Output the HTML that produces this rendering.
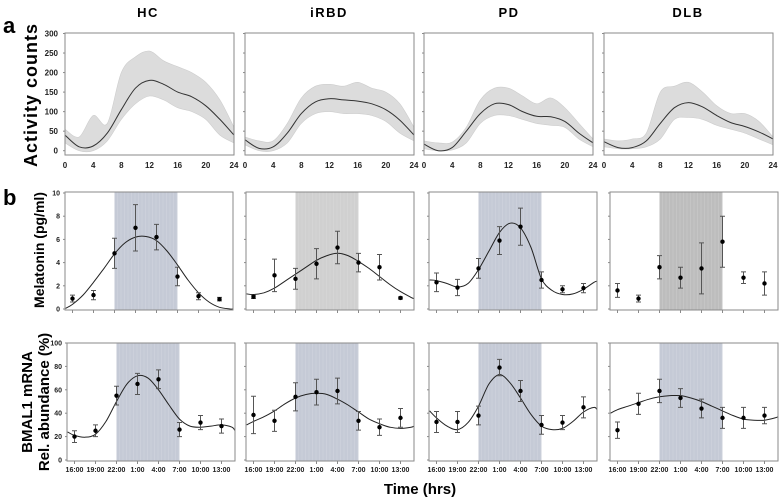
<!DOCTYPE html>
<html><head><meta charset="utf-8">
<style>
body{margin:0;background:#fff;}
svg{display:block;font-family:"Liberation Sans",Arial,sans-serif;}
</style></head>
<body>
<svg id="fig" width="779" height="497" viewBox="0 0 779 497" xmlns="http://www.w3.org/2000/svg">
<text x="3" y="33" font-size="22" font-weight="bold">a</text>
<text x="3" y="205" font-size="22" font-weight="bold">b</text>
<text x="148" y="17" font-size="13" font-weight="bold" letter-spacing="1.5" text-anchor="middle">HC</text>
<text x="329" y="17" font-size="13" font-weight="bold" letter-spacing="1.5" text-anchor="middle">iRBD</text>
<text x="509" y="17" font-size="13" font-weight="bold" letter-spacing="1.5" text-anchor="middle">PD</text>
<text x="688" y="17" font-size="13" font-weight="bold" letter-spacing="1.5" text-anchor="middle">DLB</text>
<text transform="translate(37,95) rotate(-90)" font-size="18" font-weight="bold" text-anchor="middle" letter-spacing="1">Activity counts</text>
<text transform="translate(44,250) rotate(-90)" font-size="14" font-weight="bold" text-anchor="middle">Melatonin (pg/ml)</text>
<text transform="translate(32,402) rotate(-90)" font-size="15" font-weight="bold" text-anchor="middle">BMAL1 mRNA</text>
<text transform="translate(49,402) rotate(-90)" font-size="15" font-weight="bold" text-anchor="middle">Rel. abundance (%)</text>
<text x="420" y="494" font-size="15" font-weight="bold" text-anchor="middle">Time (hrs)</text>
</svg>
<script>
// ===== Activity data (hours 0..24 step 2) =====
const actHours = [0,2,4,6,8,10,12,14,16,18,20,22,24];
const actCurveHC   = [40,10,12,45,105,160,180,170,150,138,115,80,40];
const actUpperHC   = [55,35,90,70,200,240,255,230,215,200,175,130,60];
const actLowerHC   = [20,0,0,25,80,120,140,130,110,100,80,40,20];
const actCurveIRBD = [28,6,10,45,95,125,133,130,127,120,105,78,40];
const actUpperIRBD = [35,25,25,70,135,165,170,165,175,160,150,120,60];
const actLowerIRBD = [15,0,0,20,70,95,100,95,95,90,75,45,25];
const actCurvePD   = [17,0,8,50,95,120,118,100,88,87,75,45,20];
const actUpperPD   = [25,20,22,60,130,160,160,140,120,135,110,70,30];
const actLowerPD   = [5,0,2,20,70,90,90,80,70,65,60,30,10];
const actCurveDLB  = [23,8,8,25,70,110,123,112,90,72,62,48,30];
const actUpperDLB  = [30,25,30,45,150,165,175,150,115,95,95,75,35];
const actLowerDLB  = [10,5,5,10,30,80,85,80,65,55,45,30,15];
const actTicks = [0,4,8,12,16,20,24];
const actYTicks = [0,50,100,150,200,250,300];

// ===== Sampling times =====
const timeLabels = ["16:00","19:00","22:00","1:00","4:00","7:00","10:00","13:00"];

// ===== Melatonin =====
const melHC    = [0.9,1.2,4.8,7.0,6.2,2.8,1.1,0.85];
const melErrHC = [0.3,0.4,1.3,2.0,1.1,0.8,0.3,0.15];
const melIRBD    = [1.05,2.9,2.6,3.9,5.3,4.0,3.6,0.95];
const melErrIRBD = [0.15,1.4,0.9,1.3,1.4,0.8,1.1,0.1];
const melPD    = [2.3,1.85,3.5,5.9,7.1,2.5,1.7,1.8];
const melErrPD = [0.8,0.7,0.85,1.2,1.6,0.7,0.3,0.4];
const melDLB    = [1.6,0.9,3.6,2.7,3.5,5.8,2.7,2.2];
const melErrDLB = [0.6,0.3,1.0,0.9,2.2,2.2,0.5,1.0];
const fitIdx = [-0.33,0,0.5,1,1.5,2,2.5,3,3.5,4,4.5,5,5.5,6,6.5,7,7.5,7.7];
const melFitHC   = [0.05,0.4,1.2,2.3,3.5,4.75,5.7,6.2,6.25,5.9,5.0,3.8,2.5,1.4,0.6,0.15,0,0];
const melFitIRBD = [1.3,1.25,1.4,1.8,2.4,3.0,3.6,4.2,4.6,4.8,4.6,4.1,3.5,2.8,2.1,1.5,1.0,0.9];
const melFitPD   = [2.5,2.45,2.2,1.9,2.2,3.4,5.0,6.6,7.4,7.0,5.3,2.6,1.6,1.25,1.3,1.7,2.3,2.4];
const melYTicks = [0,2,4,6,8,10];

// ===== BMAL1 =====
const bmHC    = [20,25,55,65,69,26,32,29];
const bmErrHC = [5,5,8,9,8,6,6,6];
const bmIRBD    = [38.5,33.5,54,58,59,33.5,28,36];
const bmErrIRBD = [16,9,12,11,11,8,7,8];
const bmPD    = [32.5,32.5,38,79,59,30,32,45];
const bmErrPD = [9,9,8,7,9,8,6,9];
const bmDLB    = [25.5,48,59,53,44,36,36,38];
const bmErrDLB = [7,9,10,8,8,9,9,7];
const bmFitHC   = [24,21,19.5,22,33,50,65,72,70,60,47,35,29,28,29,30,28,25];
const bmFitIRBD = [30,33,37,42,48,53,56,57,56,52,47,41,35,31,28,27,28,29];
const bmFitPD   = [42,36,29,26,32,46,65,73,66,53,39,29,26,27,33,41,45,43];
const bmFitDLB  = [40,43,46,49,52,54,55,55,53,50,46,42,38,35,34,34,36,37];
const bmYTicks = [0,20,40,60,80,100];

const NS = "http://www.w3.org/2000/svg";
const svg = document.getElementById('fig');
function mk(tag, attrs, parent){
  const e = document.createElementNS(NS, tag);
  for (const k in attrs) e.setAttribute(k, attrs[k]);
  (parent||svg).appendChild(e);
  return e;
}
function smooth(pts){
  let d = "M"+pts[0][0].toFixed(1)+","+pts[0][1].toFixed(1);
  for (let i=0;i<pts.length-1;i++){
    const p0=pts[Math.max(i-1,0)], p1=pts[i], p2=pts[i+1], p3=pts[Math.min(i+2,pts.length-1)];
    const c1=[p1[0]+(p2[0]-p0[0])/6, p1[1]+(p2[1]-p0[1])/6];
    const c2=[p2[0]-(p3[0]-p1[0])/6, p2[1]-(p3[1]-p1[1])/6];
    d += " C"+c1[0].toFixed(1)+","+c1[1].toFixed(1)+" "+c2[0].toFixed(1)+","+c2[1].toFixed(1)+" "+p2[0].toFixed(1)+","+p2[1].toFixed(1);
  }
  return d;
}

// ---- Activity panels ----
const actPanels = [
  {name:"hc", left:65, c:actCurveHC, u:actUpperHC, l:actLowerHC},
  {name:"irbd", left:245, c:actCurveIRBD, u:actUpperIRBD, l:actLowerIRBD},
  {name:"pd", left:424, c:actCurvePD, u:actUpperPD, l:actLowerPD},
  {name:"dlb", left:604, c:actCurveDLB, u:actUpperDLB, l:actLowerDLB}
];
actPanels.forEach((p, pi) => {
  const W = 169, top = 33, bot = 155;
  const xS = h => p.left + h/24*W;
  const yS = v => 150.7 - v*(117.2/300);
  const g = mk('g', {});
  
  
  const up = actHours.map((h,i)=>[xS(h), yS(p.u[i])]);
  const lo = actHours.map((h,i)=>[xS(h), yS(p.l[i])]).reverse();
  const band = mk('path', {d: smooth(up) + " L" + smooth(lo).slice(1) + " Z", fill:"#dcdcdc", stroke:"#cdcdcd", "stroke-width":"0.6"}, g);
  
  
  const cur = mk('path', {d: smooth(actHours.map((h,i)=>[xS(h), yS(p.c[i])])), fill:"none", stroke:"#333", "stroke-width":"1"}, g);
  
  
  const fr = mk('rect', {x:p.left, y:top, width:W, height:bot-top, fill:"none", stroke:"#8a8a8a", "stroke-width":"1"}, g);
  
  
  actYTicks.forEach(t=>{
    mk('line', {x1:p.left-2, x2:p.left, y1:yS(t), y2:yS(t), stroke:"#8a8a8a"}, g);
    if (pi===0){
      const tx = mk('text', {x:p.left-7, y:yS(t)+3, "font-size":"8", "font-weight":"bold", "text-anchor":"end", fill:"#222"}, g);
      tx.textContent = t;
      
      
    }
  });
  actTicks.forEach(t=>{
    const tx = mk('text', {x:xS(t), y:168, "font-size":"8", "font-weight":"bold", "text-anchor":"middle", fill:"#222"}, g);
    tx.textContent = t;
    
    
  });
});

// ---- Point panels ----
function pointPanel(cfg){
  const W = 168;
  const xS = i => cfg.left + 7.5 + 21*i;
  const yS = v => cfg.y0 - v*(cfg.y0-cfg.yMaxPx)/cfg.vmax;
  const g = mk('g', {});
  
  
  const sh = mk('rect', {x:xS(2), y:cfg.top, width:xS(5)-xS(2), height:cfg.bot-cfg.top, fill:cfg.shade}, g);
  
  
  for (let x = xS(2)+3; x < xS(5); x += 3.5){
    mk('line', {x1:x, x2:x, y1:cfg.top, y2:cfg.bot, stroke:"#fff", "stroke-opacity":"0.12", "stroke-width":"1"}, g);
  }
  if (cfg.fit){
    const cp = mk('path', {d: smooth(fitIdx.map((t,i)=>[Math.min(Math.max(xS(t),cfg.left),cfg.left+W), yS(cfg.fit[i])])), fill:"none", stroke:"#222", "stroke-width":"1"}, g);
    
    
  }
  cfg.vals.forEach((v,i)=>{
    const e = cfg.err[i], x = xS(i);
    const eb = mk('path', {d:`M${x},${yS(v+e)} V${yS(v-e)} M${x-2.5},${yS(v+e)} H${x+2.5} M${x-2.5},${yS(v-e)} H${x+2.5}`, stroke:"#555", "stroke-width":"1", fill:"none"}, g);
    
    
    const pt = mk('circle', {cx:x, cy:yS(v), r:2.2, fill:"#000"}, g);
    
    
  });
  const fr = mk('rect', {x:cfg.left, y:cfg.top, width:W, height:cfg.bot-cfg.top, fill:"none", stroke:"#8a8a8a", "stroke-width":"1"}, g);
  
  
  cfg.yTicks.forEach(t=>{
    mk('line', {x1:cfg.left-2, x2:cfg.left, y1:yS(t), y2:yS(t), stroke:"#8a8a8a"}, g);
    if (cfg.labelY){
      const tx = mk('text', {x:cfg.left-5, y:yS(t)+2.5, "font-size":"7", "font-weight":"bold", "text-anchor":"end", fill:"#222"}, g);
      tx.textContent = t;
      
      
    }
  });
  timeLabels.forEach((lab,i)=>{
    mk('line', {x1:xS(i), x2:xS(i), y1:cfg.bot, y2:cfg.bot+3, stroke:"#8a8a8a"}, g);
    if (cfg.labelX){
      const tx = mk('text', {x:xS(i), y:cfg.bot+11, "font-size":"7", "font-weight":"bold", "text-anchor":"middle", fill:"#222"}, g);
      tx.textContent = lab;
      
      
    }
  });
}
const blue = "#c5cad6";
const melBase = {top:192, bot:310, y0:309, yMaxPx:193, vmax:10, yTicks:melYTicks, labelX:false};
pointPanel(Object.assign({}, melBase, {name:"melatonin-hc", left:65, vals:melHC, err:melErrHC, fit:melFitHC, shade:blue, labelY:true}));
pointPanel(Object.assign({}, melBase, {name:"melatonin-irbd", left:246, vals:melIRBD, err:melErrIRBD, fit:melFitIRBD, shade:"#d0d0d0"}));
pointPanel(Object.assign({}, melBase, {name:"melatonin-pd", left:429, vals:melPD, err:melErrPD, fit:melFitPD, shade:blue}));
pointPanel(Object.assign({}, melBase, {name:"melatonin-dlb", left:610, vals:melDLB, err:melErrDLB, fit:null, shade:"#bdbdbd"}));
const bmBase = {top:343, bot:461, y0:460, yMaxPx:343, vmax:100, yTicks:bmYTicks, labelX:true};
pointPanel(Object.assign({}, bmBase, {name:"bmal1-hc", left:67, vals:bmHC, err:bmErrHC, fit:bmFitHC, shade:blue, labelY:true}));
pointPanel(Object.assign({}, bmBase, {name:"bmal1-irbd", left:246, vals:bmIRBD, err:bmErrIRBD, fit:bmFitIRBD, shade:blue}));
pointPanel(Object.assign({}, bmBase, {name:"bmal1-pd", left:429, vals:bmPD, err:bmErrPD, fit:bmFitPD, shade:blue}));
pointPanel(Object.assign({}, bmBase, {name:"bmal1-dlb", left:610, vals:bmDLB, err:bmErrDLB, fit:bmFitDLB, shade:blue}));
</script>
</body></html>
